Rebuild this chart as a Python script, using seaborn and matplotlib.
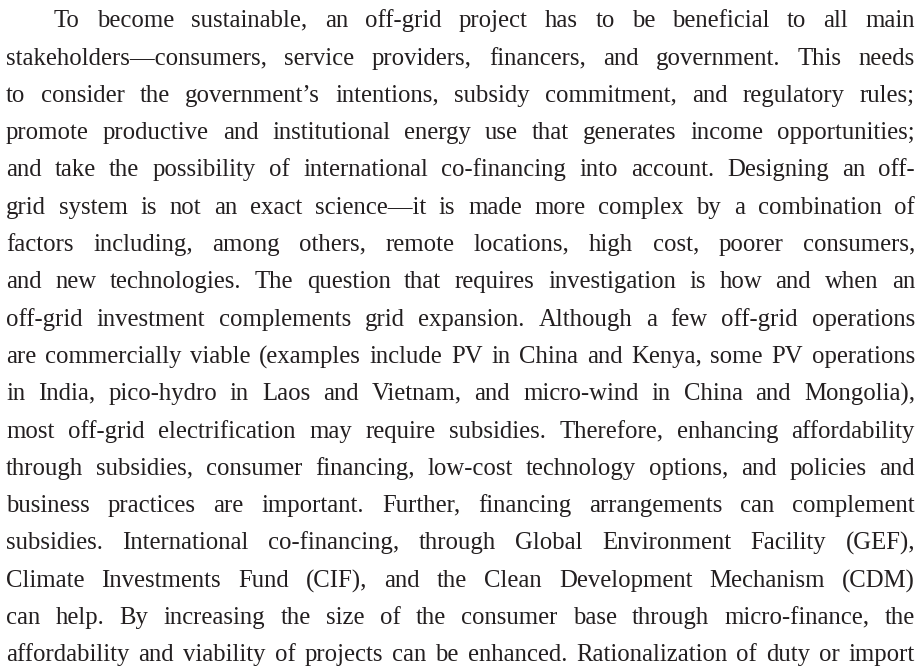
import matplotlib
matplotlib.use("Agg")
import matplotlib.pyplot as plt
from matplotlib.font_manager import FontProperties
from matplotlib.backends.backend_agg import get_hinting_flag
import seaborn as sns

# paragraph lines as they break in the reference
lines = [
    "To become sustainable, an off-grid project has to be beneficial to all main",
    "stakeholders—consumers, service providers, financers, and government. This needs",
    "to consider the government’s intentions, subsidy commitment, and regulatory rules;",
    "promote productive and institutional energy use that generates income opportunities;",
    "and take the possibility of international co-financing into account. Designing an off-",
    "grid system is not an exact science—it is made more complex by a combination of",
    "factors including, among others, remote locations, high cost, poorer consumers,",
    "and new technologies. The question that requires investigation is how and when an",
    "off-grid investment complements grid expansion. Although a few off-grid operations",
    "are commercially viable (examples include PV in China and Kenya, some PV operations",
    "in India, pico-hydro in Laos and Vietnam, and micro-wind in China and Mongolia),",
    "most off-grid electrification may require subsidies. Therefore, enhancing affordability",
    "through subsidies, consumer financing, low-cost technology options, and policies and",
    "business practices are important. Further, financing arrangements can complement",
    "subsidies. International co-financing, through Global Environment Facility (GEF),",
    "Climate Investments Fund (CIF), and the Clean Development Mechanism (CDM)",
    "can help. By increasing the size of the consumer base through micro-finance, the",
    "affordability and viability of projects can be enhanced. Rationalization of duty or import",
]

FAM = "Liberation Serif"
sns.set_theme(style="white")
plt.rcParams['font.family'] = FAM

W, H = 923, 668
fig = plt.figure(figsize=(W / 100, H / 100), dpi=100)
ax = fig.add_axes([0, 0, 1, 1])
ax.set_xlim(0, W)
ax.set_ylim(H, 0)
ax.axis("off")

left, right = 6, 915
indent = 48
top_base, step = 27.3, 37.3
fsize = 17.8
col = "#231f20"

renderer = fig.canvas.get_renderer()


def word_width(w, fs):
    t = ax.text(0, 0, w, fontsize=fs, family=FAM)
    wd = t.get_window_extent(renderer=renderer).width
    t.remove()
    return wd


def baseline_y(w, fs, row):
    # agg snaps each word bitmap to whole pixels; work out the anchor that
    # puts this word's baseline exactly on `row` so a line stays level
    font = renderer._prepare_font(FontProperties(family=FAM, size=fs))
    font.set_text(w, 0, flags=get_hinting_flag())
    h26 = font.get_width_height()[1]
    d26 = font.get_descent()
    himg = h26 // 64 + 2
    top = (h26 - d26) // 64
    return (row - 2 + himg - top) - d26 / 64.0


for i, line in enumerate(lines):
    words = line.split(" ")
    x0 = left + (indent if i == 0 else 0)
    fs = fsize
    widths = [word_width(w, fs) for w in words]
    # shrink a touch if a line would not fit with a normal word space
    while sum(widths) + 4 * (len(words) - 1) > right - x0:
        fs -= 0.1
        widths = [word_width(w, fs) for w in words]
    gap = (right - x0 - sum(widths)) / (len(words) - 1)
    row = round(top_base + i * step)
    x = x0
    for w, wd in zip(words, widths):
        ax.text(x, baseline_y(w, fs, row), w, fontsize=fs, color=col,
                family=FAM, ha="left", va="baseline")
        x += wd + gap

fig.savefig("out.png", dpi=100, facecolor="white")
